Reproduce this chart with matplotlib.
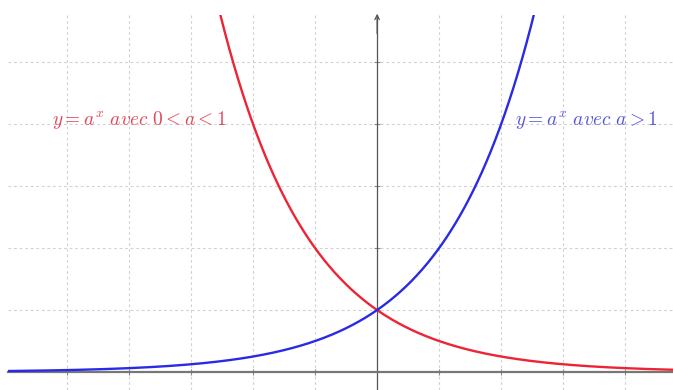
import numpy as np
import matplotlib.pyplot as plt

plt.rcParams['mathtext.fontset'] = 'cm'

# bases of the two exponentials y = a**x
bases = [0.5, 2.0]
colors = ['#ec2433', '#2a2ae6']
text_colors = ['#e5475a', '#5858d8']
labels = [r'$y = a^x\ avec\ 0 < a < 1$', r'$y = a^x\ avec\ a > 1$']

x_grid = [-5, -4, -3, -2, -1, 1, 2, 3, 4]
y_grid = [1, 2, 3, 4, 5]

xmin, xmax = -5.95, 4.77
ymin, ymax = -0.29, 5.76

fig = plt.figure(figsize=(6.73, 3.90), dpi=100)
ax = fig.add_axes([8 / 673, 0, 665 / 673, 375 / 390])
ax.set_xlim(xmin, xmax)
ax.set_ylim(ymin, ymax)

# dashed grid
for gx in x_grid:
    ax.axvline(gx, color='#d2d2d2', lw=0.8, ls=(0, (2.5, 2.5)), zorder=0)
for gy in y_grid:
    ax.axhline(gy, color='#d2d2d2', lw=0.8, ls=(0, (2.5, 2.5)), zorder=0)

# axes through the origin
for s in ['top', 'right']:
    ax.spines[s].set_visible(False)
ax.spines['left'].set_position(('data', 0))
ax.spines['bottom'].set_position(('data', 0))
ax.spines['bottom'].set_color('#777777')
ax.spines['bottom'].set_linewidth(1.6)
ax.spines['left'].set_color('#555555')
ax.spines['left'].set_linewidth(0.9)
ax.set_xticks(x_grid)
ax.set_yticks(y_grid)
ax.set_xticklabels([])
ax.set_yticklabels([])
ax.tick_params(direction='inout', length=5, width=0.8, colors='#888888')
ax.annotate('', xy=(0, ymax + 0.02), xytext=(0, ymax - 0.3),
            arrowprops=dict(arrowstyle='->', color='#555555', lw=0.9,
                            mutation_scale=8, shrinkA=0, shrinkB=0),
            annotation_clip=False)

x = np.linspace(xmin, xmax, 600)
for a, c in zip(bases, colors):
    ax.plot(x, a ** x, color=c, lw=1.7, zorder=3)

ax.text(-5.24, 4.06, labels[0], color=text_colors[0], fontsize=14,
        ha='left', va='center')
ax.text(2.23, 4.06, labels[1], color=text_colors[1], fontsize=14,
        ha='left', va='center')

fig.savefig('out.png', dpi=100)
